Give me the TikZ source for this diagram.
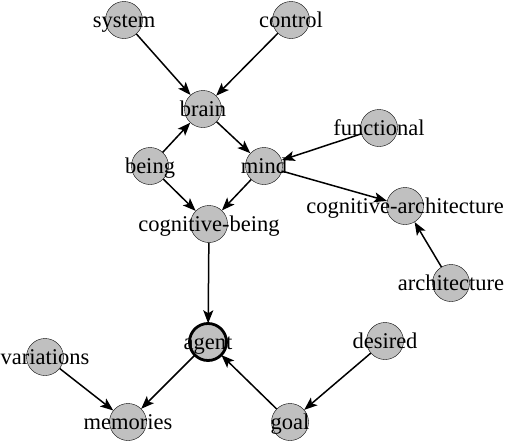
\documentclass[tikz,border=0pt]{standalone}
\usepackage{fontspec}
\setmainfont{Liberation Serif}
\usetikzlibrary{arrows.meta}
\definecolor{vgray}{RGB}{192,192,192}
\begin{document}
\begin{tikzpicture}[x=1pt, y=-1pt,
  vertex/.style = {circle, draw, thin, fill=vgray, minimum size=37pt, inner sep=0pt},
  word/.style = {font=\fontsize{22.5}{24}\selectfont, inner sep=0pt, anchor=base, yshift=-7pt},
  link/.style = {line width=1.5pt, -{Stealth[length=13pt, width=10pt, inset=3pt]}}]
\useasboundingbox (0,0) rectangle (506,442);

\foreach \n/\x/\y in {system/124/20, control/291/20, brain/203/109, being/150/166,
    mind/264/166, cogbeing/209/224, functional/379/128, cogarch/405/206,
    architecture/451/283, agent/208/342, variations/45/357, desired/385/341,
    memories/128/422, goal/290/422}
   \node[vertex] (\n) at (\x,\y) {};
\draw[line width=2.8pt] (agent) circle (18.5pt);

\foreach \a/\b in {system/brain, control/brain, being/brain, brain/mind,
    being/cogbeing, mind/cogbeing, functional/mind, mind/cogarch,
    architecture/cogarch, cogbeing/agent, agent/memories, variations/memories,
    goal/agent, desired/goal}
   \draw[link] (\a) -- (\b);

\foreach \n/\t in {system/system, control/control, brain/brain, being/being,
    mind/mind, cogbeing/cognitive-being, functional/functional,
    cogarch/cognitive-architecture, architecture/architecture, agent/agent,
    variations/variations, desired/desired, memories/memories, goal/goal}
   \node[word] at (\n) {\t};
\end{tikzpicture}
\end{document}
